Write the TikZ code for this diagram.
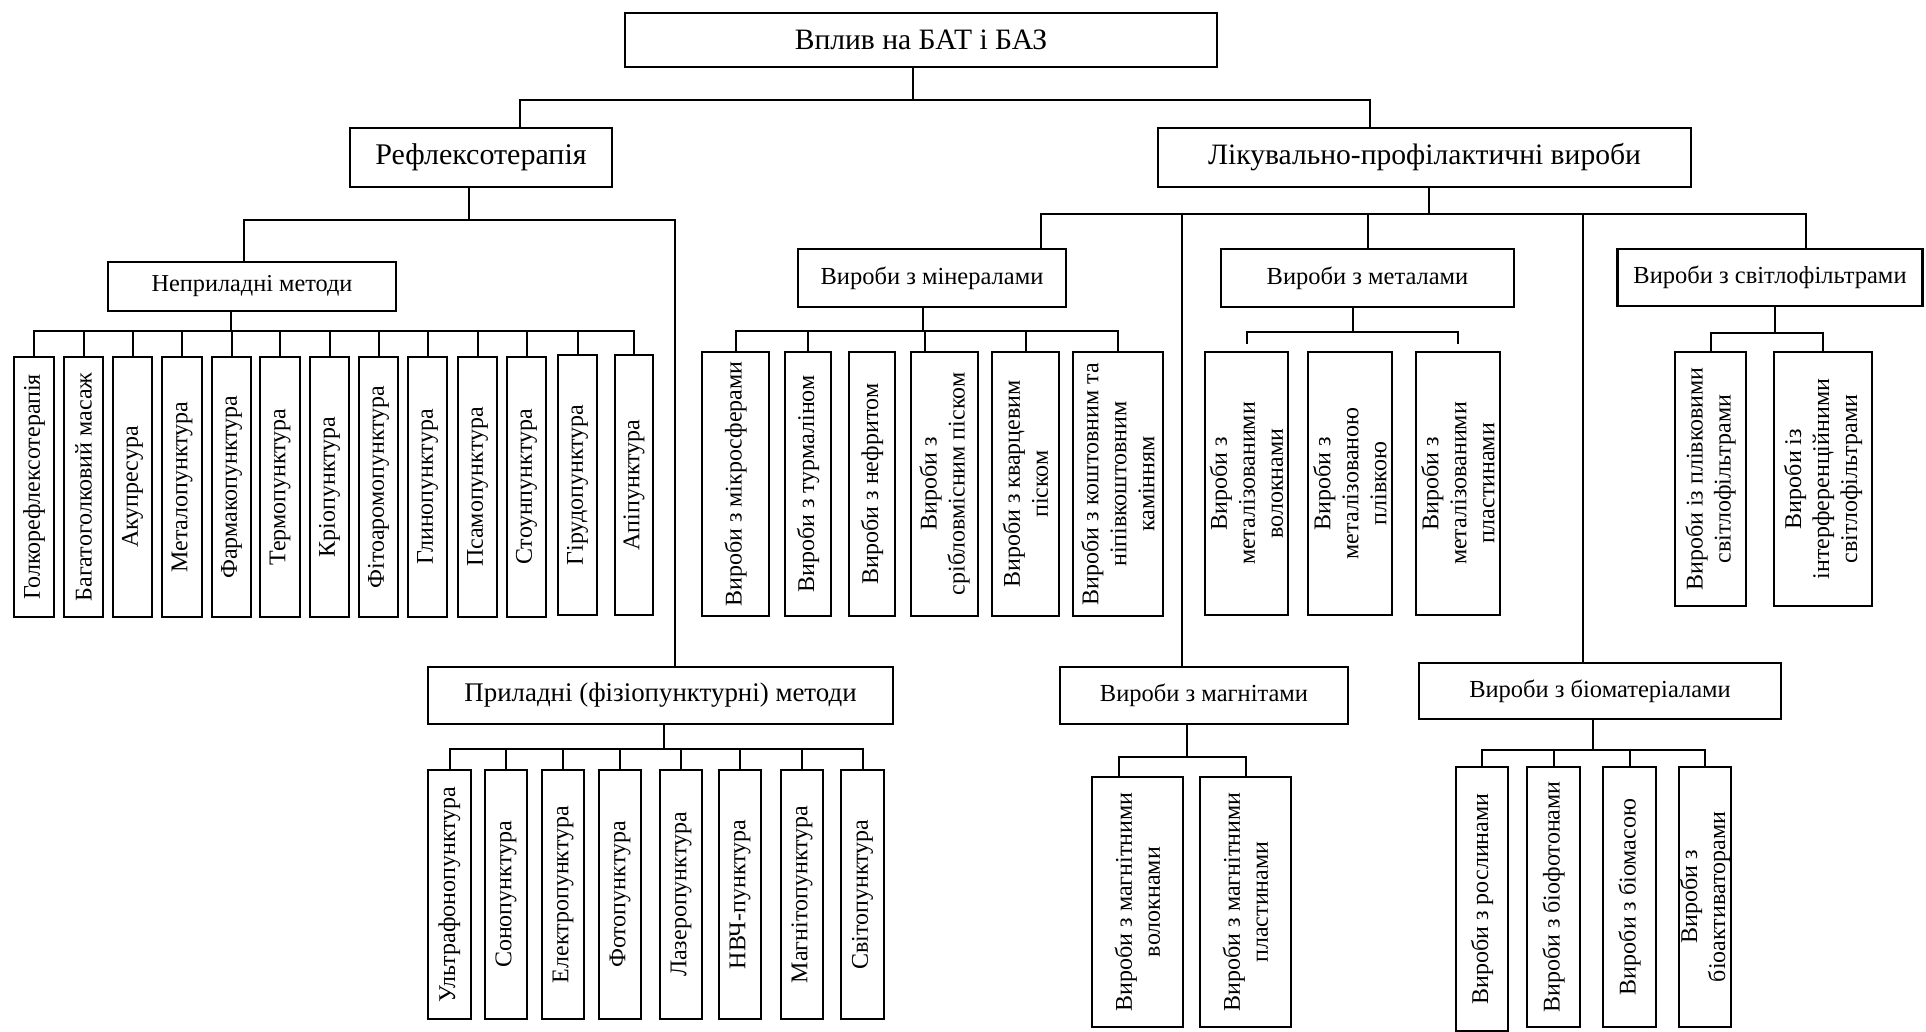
\documentclass[tikz,border=0pt]{standalone}
\usepackage{fontspec}
\setmainfont{Liberation Serif}
\usetikzlibrary{calc}
\tikzset{
  hbox/.style={draw, line width=2.4pt, inner sep=0pt, align=center},
  vbox/.style={draw, line width=2.4pt, inner sep=0pt},
  vtext/.style={inner sep=0pt, align=center, rotate=90, font=\fontsize{24}{28}\selectfont},
  conn/.style={line width=2pt},
  topf/.style={font=\fontsize{29.6}{35}\selectfont},
  midf/.style={font=\fontsize{24.5}{29}\selectfont},
}
\newcommand\mkvbox[6]{%
  \node[vbox, minimum width=#4pt, minimum height=#5pt] (#1) at (#2,#3) {};
  \node[vtext] (#1t) at (#1.center) {#6};}

\begin{document}
\begin{tikzpicture}[x=1pt,y=-1pt]
\useasboundingbox (0,0) rectangle (1926,1032);

% main boxes
\node[hbox, topf, minimum width=592pt, minimum height=54pt] (root) at (921,40) {Вплив на БАТ і БАЗ};
\node[hbox, font=\fontsize{30}{35}\selectfont, minimum width=262pt, minimum height=59pt] (refl) at (481,157.5) {Рефлексотерапія};
\node[hbox, topf, minimum width=533pt, minimum height=59pt] (lik) at (1424.5,157.5) {Лікувально-профілактичні вироби};
\node[hbox, font=\fontsize{24.3}{28}\selectfont, minimum width=288pt, minimum height=49pt] (nepr) at (252,286.5) {Неприладні методи};
\node[hbox, font=\fontsize{26.9}{31}\selectfont, minimum width=465pt, minimum height=57pt] (pril) at (660.5,695.5) {Приладні (фізіопунктурні) методи};
\node[hbox, midf, minimum width=268pt, minimum height=58pt] (mine) at (932,278) {Вироби з мінералами};
\node[hbox, midf, minimum width=288pt, minimum height=57pt] (mag) at (1204,695.5) {Вироби з магнітами};
\node[hbox, midf, minimum width=293pt, minimum height=58pt] (met) at (1367.5,278) {Вироби з металами};
\node[hbox, midf, minimum width=362pt, minimum height=56pt] (bio) at (1600,691) {Вироби з біоматеріалами};
\node[hbox, midf, minimum width=305pt, minimum height=57pt] (svit) at (1770,277.5) {Вироби з світлофільтрами};

% Неприладні children
\mkvbox{n1}{34}{487}{40}{260}{Голкорефлексотерапія}
\mkvbox{n2}{83.5}{487}{39}{260}{Багатоголковий масаж}
\mkvbox{n3}{132.5}{487}{39}{260}{Акупресура}
\mkvbox{n4}{182}{487}{40}{260}{Металопунктура}
\mkvbox{n5}{231.5}{487}{39}{260}{Фармакопунктура}
\mkvbox{n6}{280}{487}{40}{260}{Термопунктура}
\mkvbox{n7}{329.5}{487}{39}{260}{Кріопунктура}
\mkvbox{n8}{378.5}{487}{39}{260}{Фітоаромопунктура}
\mkvbox{n9}{427.5}{487}{39}{260}{Глинопунктура}
\mkvbox{n10}{477.5}{487}{39}{260}{Псамопунктура}
\mkvbox{n11}{526.5}{487}{39}{260}{Стоунпунктура}
\mkvbox{n12}{577.5}{485}{39}{260}{Гірудопунктура}
\mkvbox{n13}{634}{485}{38}{260}{Апіпунктура}

% Приладні children
\mkvbox{p1}{449.5}{894.5}{43}{249}{Ультрафонопунктура}
\mkvbox{p2}{506}{894.5}{42}{249}{Сонопунктура}
\mkvbox{p3}{563}{894.5}{42}{249}{Електропунктура}
\mkvbox{p4}{620}{894.5}{42}{249}{Фотопунктура}
\mkvbox{p5}{681}{894.5}{42}{249}{Лазеропунктура}
\mkvbox{p6}{740}{894.5}{42}{249}{НВЧ-пунктура}
\mkvbox{p7}{802}{894.5}{42}{249}{Магнітопунктура}
\mkvbox{p8}{862.5}{894.5}{43}{249}{Світопунктура}

% Мінерали children
\mkvbox{m1}{735.5}{484}{67}{264}{Вироби з мікросферами}
\mkvbox{m2}{808}{484}{46}{264}{Вироби з турмаліном}
\mkvbox{m3}{872}{484}{46}{264}{Вироби з нефритом}
\mkvbox{m4}{944.5}{484}{67}{264}{Вироби з\\срібловмісним піском}
\mkvbox{m5}{1025.5}{484}{67}{264}{Вироби з кварцевим\\піском}
\mkvbox{m6}{1118}{484}{90}{264}{Вироби з коштовним та\\ніпівкоштовним\\камінням}

% Метали children
\mkvbox{t1}{1246.5}{483.5}{83}{263}{Вироби з\\металізованими\\волокнами}
\mkvbox{t2}{1350}{483.5}{84}{263}{Вироби з\\металізованою\\плівкою}
\mkvbox{t3}{1458}{483.5}{84}{263}{Вироби з\\металізованими\\пластинами}

% Світлофільтри children
\mkvbox{s1}{1710.5}{479}{71}{254}{Вироби із плівковими\\світлофільтрами}
\mkvbox{s2}{1823}{479}{98}{254}{Вироби із\\інтерференційними\\світлофільтрами}

% Магніти children
\mkvbox{g1}{1137.5}{902}{91}{250}{Вироби з магнітними\\волокнами}
\mkvbox{g2}{1245.5}{902}{91}{250}{Вироби з магнітними\\пластинами}

% Біоматеріали children
\mkvbox{b1}{1482}{899}{52}{264}{Вироби з рослинами}
\mkvbox{b2}{1553.5}{897}{53}{260}{Вироби з біофотонами}
\mkvbox{b3}{1629.5}{897}{53}{260}{Вироби з біомасою}
\mkvbox{b4}{1705}{897}{52}{260}{Вироби з\\біоактиваторами}

% connectors
\draw[conn] ($(root.south west)!.486!(root.south east)$) -- ++(0,32) -| ($(refl.north west)!.649!(refl.north east)$);
\draw[conn] ($(root.south west)!.486!(root.south east)$) -- ++(0,32) -| ($(lik.north west)!.398!(lik.north east)$);

\draw[conn] ($(refl.south west)!.454!(refl.south east)$) -- ++(0,32) -| ($(nepr.north west)!.472!(nepr.north east)$);
\draw[conn] ($(refl.south west)!.454!(refl.south east)$) -- ++(0,32) -| ($(pril.north west)!.531!(pril.north east)$);

\foreach \c in {n1,n2,n3,n4,n5,n6,n7,n8,n9,n10,n11,n12,n13}
  \draw[conn] ($(nepr.south west)!.427!(nepr.south east)$) -- ++(0,19) -| (\c.north);

\foreach \c in {p1,p2,p3,p4,p5,p6,p7,p8}
  \draw[conn] ($(pril.south west)!.508!(pril.south east)$) -- ++(0,24) -| (\c.north);

\draw[conn] ($(lik.south west)!.508!(lik.south east)$) -- ++(0,26) -| ($(mine.north west)!.903!(mine.north east)$);
\draw[conn] ($(lik.south west)!.508!(lik.south east)$) -- ++(0,26) -| ($(mag.north west)!.424!(mag.north east)$);
\draw[conn] ($(lik.south west)!.508!(lik.south east)$) -- ++(0,26) -| (met.north);
\draw[conn] ($(lik.south west)!.508!(lik.south east)$) -- ++(0,26) -| ($(bio.north west)!.453!(bio.north east)$);
\draw[conn] ($(lik.south west)!.508!(lik.south east)$) -- ++(0,26) -| ($(svit.north west)!.616!(svit.north east)$);

\draw[conn] ($(mine.south west)!.466!(mine.south east)$) -- ++(0,23) -| (m1.north);
\draw[conn] ($(mine.south west)!.466!(mine.south east)$) -- ++(0,23) -| (m2.north);
\draw[conn] ($(mine.south west)!.466!(mine.south east)$) -- ++(0,23) -| ($(m4.north west)!.224!(m4.north east)$);
\draw[conn] ($(mine.south west)!.466!(mine.south east)$) -- ++(0,23) -| (m5.north);
\draw[conn] ($(mine.south west)!.466!(mine.south east)$) -- ++(0,23) -| (m6.north);

\draw[conn, shorten >=7pt] ($(met.south west)!.45!(met.south east)$) -- ++(0,24) -| (t1.north);
\draw[conn, shorten >=7pt] ($(met.south west)!.45!(met.south east)$) -- ++(0,24) -| (t3.north);

\draw[conn] ($(svit.south west)!.515!(svit.south east)$) -- ++(0,26) -| (s1.north);
\draw[conn] ($(svit.south west)!.515!(svit.south east)$) -- ++(0,26) -| (s2.north);

\draw[conn] ($(mag.south west)!.441!(mag.south east)$) -- ++(0,32) -| ($(g1.north west)!.297!(g1.north east)$);
\draw[conn] ($(mag.south west)!.441!(mag.south east)$) -- ++(0,32) -| (g2.north);

\foreach \c in {b1,b2,b3,b4}
  \draw[conn] ($(bio.south west)!.481!(bio.south east)$) -- ++(0,30) -| (\c.north);
\end{tikzpicture}
\end{document}
